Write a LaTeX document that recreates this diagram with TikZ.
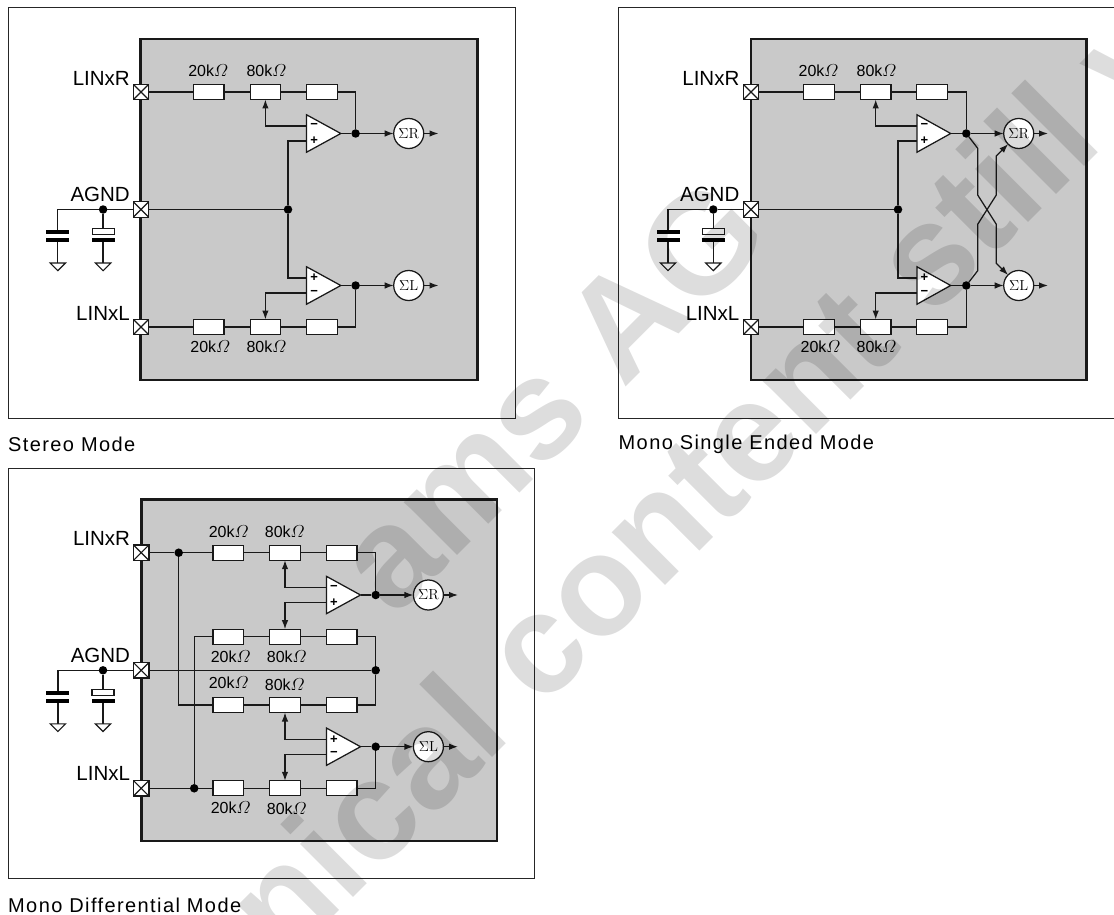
\documentclass[tikz,border=0pt]{standalone}
\usepackage{fontspec}
\newfontfamily\arial{Liberation Sans}
\newfontfamily\arialcap[LetterSpace=7]{Liberation Sans}
\newfontfamily\arialbold{Liberation Sans Bold}
\usetikzlibrary{arrows.meta,calc}
\definecolor{chipgray}{HTML}{C9C9C9}
\tikzset{
  x=1pt,y=-1pt,
  wire/.style={line width=1.25pt,draw=black!90},
  arr/.style={wire,-{Latex[length=9pt,width=6.5pt]}},
  chip/.style={line width=2.8pt,draw=black!90,fill=chipgray},
  frame/.style={line width=1pt,draw=black!85},
  res/.style={draw=black!90,fill=white,line width=1.25pt,minimum width=30.5pt,minimum height=15pt,inner sep=0pt,outer sep=0pt},
  pad/.style={draw=black!90,fill=white,line width=1.25pt,minimum width=15.5pt,minimum height=15.5pt,inner sep=0pt,outer sep=0pt,
    path picture={\draw[line width=1.1pt] (path picture bounding box.north west)--(path picture bounding box.south east)
      (path picture bounding box.north east)--(path picture bounding box.south west);}},
  dotn/.style={circle,fill=black,minimum size=8.5pt,inner sep=0pt,outer sep=0pt},
  sumn/.style={circle,draw=black!90,fill=white,line width=1.25pt,minimum size=30pt,inner sep=0pt,outer sep=0pt,font=\fontsize{14.5}{14.5}\selectfont},
  plate/.style={fill=black,minimum width=23pt,minimum height=4.2pt,inner sep=0pt,outer sep=0pt},
  eplate/.style={draw=black!90,fill=white,line width=1.1pt,minimum width=22pt,minimum height=5.5pt,inner sep=0pt,outer sep=0pt},
  pin/.style={font=\arial\fontsize{20.5}{20.5}\selectfont,anchor=east,inner sep=0pt},
  val/.style={font=\arial\fontsize{16}{16}\selectfont,inner sep=0pt},
  captn/.style={font=\arialcap\fontsize{20}{20}\selectfont,anchor=west,inner sep=0pt},
  sign/.style={font=\arial\bfseries\fontsize{13}{13}\selectfont,inner sep=0pt},
  gnd/.style={line width=1.1pt,draw=black!90,fill=white},
  wmark/.style={font=\arialbold\fontsize{142}{142}\selectfont,text=black,text opacity=0.135,rotate=45,inner sep=0pt},
}
\newcommand\OhmK[1]{#1k$\mathnormal{\Omega}$}
% name, left x, tip x, centre y, upper sign, lower sign
\newcommand\OpAmp[6]{%
  \draw[wire,fill=white,line join=miter] (#2,#4-18.7) -- (#3,#4) -- (#2,#4+18.7) -- cycle;
  \coordinate (#1up) at (#2,#4-7.5);
  \coordinate (#1lo) at (#2,#4+7.5);
  \coordinate (#1out) at (#3,#4);
  \node[sign] (#1s1) at (#2+7.5,#4-7.5) {#5};
  \node[sign] (#1s2) at (#2+7.5,#4+7.5) {#6};
}
% prefix, x1, x2, pad node, y
\newcommand\Caps[5]{%
  \coordinate (#1c) at (#2,#5);
  \node[dotn] (#1j) at (#3,#5) {};
  \node[plate] (#1p1) at (#2,#5+22.5) {};
  \node[plate] (#1p2) at (#2,#5+30.5) {};
  \node[eplate] (#1e1) at (#3,#5+22) {};
  \node[plate] (#1e2) at (#3,#5+30.5) {};
  \coordinate (#1g1) at (#2,#5+53.5);
  \coordinate (#1g2) at (#3,#5+53.5);
  \draw[wire] (#4) -- (#1j) -- (#1c) -- (#1p1);
  \draw[wire] (#1j) -- (#1e1);
  \draw[wire] (#1p2) -- (#1g1);
  \draw[wire] (#1e2) -- (#1g2);
  \draw[gnd] ($(#1g1)+(-7.7,0)$) -- ($(#1g1)+(7.7,0)$) -- ($(#1g1)+(0,7.7)$) -- cycle;
  \draw[gnd] ($(#1g2)+(-7.7,0)$) -- ($(#1g2)+(7.7,0)$) -- ($(#1g2)+(0,7.7)$) -- cycle;
}
\begin{document}
\begin{tikzpicture}
\path[use as bounding box] (0,0) rectangle (1114,915);
\clip (0,0) rectangle (1114,915);
% ===== Stereo =====
\draw[frame] (8.5,8) rectangle (515.5,418);
\draw[chip] (140.5,39) rectangle (477.4,380);
\node[pad] (aR) at (141,92) {};
\node[pad] (aG) at (141,209.5) {};
\node[pad] (aL) at (141,327) {};
\node[pin] (aRt) at (130,78) {LINxR};
\node[pin] (aGt) at (130,194) {AGND};
\node[pin] (aLt) at (130,313) {LINxL};
\Caps{a}{57.8}{103.1}{aG}{209.5}
\node[res] (aR1) at (208.8,92) {};
\node[res] (aR2) at (265.4,92) {};
\node[res] (aR3) at (322,92) {};
\node[res] (aL1) at (208.8,327) {};
\node[res] (aL2) at (265.4,327) {};
\node[res] (aL3) at (322,327) {};
\node[val] (aT1) at (208.2,71) {\OhmK{20}};
\node[val] (aT2) at (266.4,71) {\OhmK{80}};
\node[val] (aT3) at (210.3,346.5) {\OhmK{20}};
\node[val] (aT4) at (266.4,346.5) {\OhmK{80}};
\OpAmp{aA}{306.6}{340.8}{133.5}{−}{+}
\OpAmp{aB}{306.6}{340.8}{285.5}{+}{−}
\node[dotn] (aJ) at (288,209.5) {};
\node[dotn] (aOR) at (355.6,133.5) {};
\node[dotn] (aOL) at (355.6,285.5) {};
\node[sumn] (aSR) at (408.7,133.5) {$\Sigma$R};
\node[sumn] (aSL) at (408.7,285.5) {$\Sigma$L};
\coordinate (aER) at (438.5,133.5);
\coordinate (aEL) at (438.5,285.5);
\draw[wire] (aR) -- (aR1) -- (aR2) -- (aR3) -- (aR3.east -| aOR) -- (aOR);
\draw[wire] (aL) -- (aL1) -- (aL2) -- (aL3) -- (aL3.east -| aOL) -- (aOL);
\draw[wire] (aG) -- (aJ);
\draw[wire] (aAlo) -- (aAlo -| aJ) -- (aJ) -- (aJ |- aBup) -- (aBup);
\draw[arr] (aAup) -- (aAup -| aR2) -- (aR2.south);
\draw[arr] (aBlo) -- (aBlo -| aL2) -- (aL2.north);
\draw[wire] (aAout) -- (aOR);
\draw[wire] (aBout) -- (aOL);
\draw[arr] (aOR) -- (aSR);
\draw[arr] (aOL) -- (aSL);
\draw[arr] (aSR) -- (aER);
\draw[arr] (aSL) -- (aEL);
\node[captn] (aC) at (8,444) {Stereo Mode};
% ===== Mono single ended =====
\draw[frame] (1120,8) -- (618.5,8) -- (618.5,418) -- (1120,418);
\draw[chip] (751,39) rectangle (1086.7,380);
\node[pad] (bR) at (751,92) {};
\node[pad] (bG) at (751,209.5) {};
\node[pad] (bL) at (751,327) {};
\node[pin] (bRt) at (739.5,78) {LINxR};
\node[pin] (bGt) at (739.5,194) {AGND};
\node[pin] (bLt) at (739.5,313) {LINxL};
\Caps{b}{668}{713.3}{bG}{209.5}
\node[res] (bR1) at (819,92) {};
\node[res] (bR2) at (875.7,92) {};
\node[res] (bR3) at (932,92) {};
\node[res] (bL1) at (819,327) {};
\node[res] (bL2) at (875.7,327) {};
\node[res] (bL3) at (932,327) {};
\node[val] (bT1) at (818.5,71) {\OhmK{20}};
\node[val] (bT2) at (876.5,71) {\OhmK{80}};
\node[val] (bT3) at (820.5,346.5) {\OhmK{20}};
\node[val] (bT4) at (876.5,346.5) {\OhmK{80}};
\OpAmp{bA}{917}{950.7}{133.5}{−}{+}
\OpAmp{bB}{917}{950.7}{285.5}{+}{−}
\node[dotn] (bJ) at (898,209.5) {};
\node[dotn] (bOR) at (966.3,133.5) {};
\node[dotn] (bOL) at (966.3,285.5) {};
\node[sumn] (bSR) at (1018.7,133.5) {$\Sigma$R};
\node[sumn] (bSL) at (1018.7,285.5) {$\Sigma$L};
\coordinate (bER) at (1048,133.5);
\coordinate (bEL) at (1048,285.5);
\draw[wire] (bR) -- (bR1) -- (bR2) -- (bR3) -- (bR3.east -| bOR) -- (bOR);
\draw[wire] (bL) -- (bL1) -- (bL2) -- (bL3) -- (bL3.east -| bOL) -- (bOL);
\draw[wire] (bG) -- (bJ);
\draw[wire] (bAlo) -- (bAlo -| bJ) -- (bJ) -- (bJ |- bBup) -- (bBup);
\draw[arr] (bAup) -- (bAup -| bR2) -- (bR2.south);
\draw[arr] (bBlo) -- (bBlo -| bL2) -- (bL2.north);
\draw[wire] (bAout) -- (bOR);
\draw[wire] (bBout) -- (bOL);
\draw[arr] (bOR) -- (bSR);
\draw[arr] (bOL) -- (bSL);
\draw[arr] (bSR) -- (bER);
\draw[arr] (bSL) -- (bEL);
\draw[arr] (bOR) -- (977.7,148.3) -- (977.7,195) -- (996.3,224.3) -- (996.3,263.3) -- (bSL);
\draw[arr] (bOL) -- (977.7,270.7) -- (977.7,224.3) -- (996.3,195) -- (996.3,156) -- (bSR);
\node[captn] (bC) at (618.5,444) {Mono Single Ended Mode};
% ===== Mono differential =====
\draw[frame] (8.5,468.7) rectangle (534.4,878.7);
\draw[chip] (141.2,499.3) rectangle (496.9,841);
\node[pad] (cR) at (141.2,552.7) {};
\node[pad] (cG) at (141.2,670.3) {};
\node[pad] (cL) at (141.2,788.3) {};
\node[pin] (cRt) at (130.2,538) {LINxR};
\node[pin] (cGt) at (130.2,655) {AGND};
\node[pin] (cLt) at (130.2,773.3) {LINxL};
\Caps{c}{57.9}{103}{cG}{670.3}
\foreach \n/\y in {1/552.7,2/636.7,3/705,4/788.3}{
  \node[res] (cA\n) at (228.2,\y) {};
  \node[res] (cB\n) at (285,\y) {};
  \node[res] (cD\n) at (341.8,\y) {};
}
\node[val] (cT1) at (228.7,532) {\OhmK{20}};
\node[val] (cT2) at (284.8,532) {\OhmK{80}};
\node[val] (cT3) at (230.7,656.7) {\OhmK{20}};
\node[val] (cT4) at (286.8,656.7) {\OhmK{80}};
\node[val] (cT5) at (228.7,682.7) {\OhmK{20}};
\node[val] (cT6) at (284.8,684.7) {\OhmK{80}};
\node[val] (cT7) at (230.7,807.3) {\OhmK{20}};
\node[val] (cT8) at (286.8,809) {\OhmK{80}};
\OpAmp{cU}{326.4}{360.5}{595}{−}{+}
\OpAmp{cV}{326.4}{360.5}{746.7}{+}{−}
\node[dotn] (cJR) at (178.7,552.7) {};
\node[dotn] (cJL) at (194.2,788.3) {};
\node[dotn] (cJG) at (375.7,670.3) {};
\node[dotn] (cOR) at (375.7,595) {};
\node[dotn] (cOL) at (375.7,746.7) {};
\node[sumn] (cSR) at (428.4,595) {$\Sigma$R};
\node[sumn] (cSL) at (428.4,746.7) {$\Sigma$L};
\coordinate (cER) at (458,595);
\coordinate (cEL) at (458,746.7);
\draw[wire] (cR) -- (cJR) -- (cA1) -- (cB1) -- (cD1) -- (cD1.east -| cOR) -- (cOR);
\draw[wire] (cJR) -- (cJR |- cA3) -- (cA3);
\draw[wire] (cA3) -- (cB3) -- (cD3) -- (cD3.east -| cJG) -- (cJG);
\draw[wire] (cL) -- (cJL) -- (cA4) -- (cB4) -- (cD4) -- (cD4.east -| cOL) -- (cOL);
\draw[wire] (cJL) -- (cJL |- cA2) -- (cA2);
\draw[wire] (cA2) -- (cB2) -- (cD2) -- (cD2.east -| cJG) -- (cJG);
\draw[wire] (cG) -- (cJG);
\draw[arr] (cUup) -- (cUup -| cB1) -- (cB1.south);
\draw[arr] (cUlo) -- (cUlo -| cB2) -- (cB2.north);
\draw[arr] (cVup) -- (cVup -| cB3) -- (cB3.south);
\draw[arr] (cVlo) -- (cVlo -| cB4) -- (cB4.north);
\draw[wire] (cUout) -- (cOR);
\draw[wire] (cVout) -- (cOL);
\draw[arr] (cOR) -- (cSR);
\draw[arr] (cOL) -- (cSL);
\draw[arr] (cSR) -- (cER);
\draw[arr] (cSL) -- (cEL);
\node[captn] (cC) at (8,905) {Mono Differential Mode};
% ===== watermark =====
\node[wmark] (w1) at (550,394) {ams AG};
\node[wmark] (w2) at (674,505) {Technical content still valid};
\end{tikzpicture}
\end{document}
